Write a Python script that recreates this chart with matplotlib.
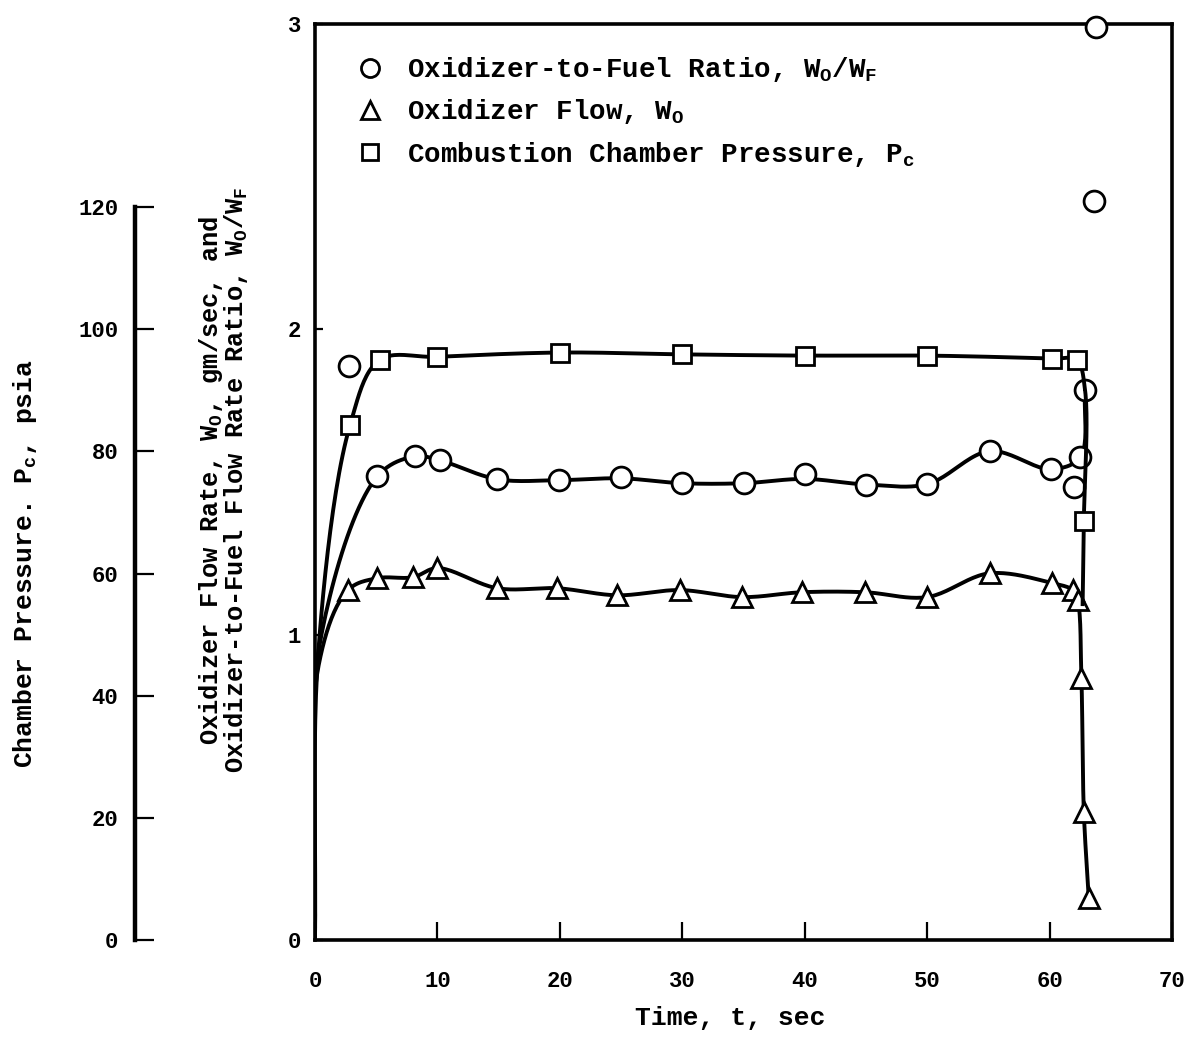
import numpy as np
import matplotlib
matplotlib.use("Agg")
import matplotlib.pyplot as plt
from matplotlib.lines import Line2D

plt.rcParams['font.family'] = ['Liberation Mono', 'DejaVu Sans Mono']
plt.rcParams['font.weight'] = 'bold'
plt.rcParams['axes.labelweight'] = 'bold'
plt.rcParams['mathtext.fontset'] = 'custom'
plt.rcParams['mathtext.rm'] = 'Liberation Mono:bold'
plt.rcParams['mathtext.it'] = 'Liberation Mono:bold'
plt.rcParams['mathtext.bf'] = 'Liberation Mono:bold'

# ---------------- data ----------------
# Oxidizer-to-fuel ratio W_O/W_F (circles)
ratio_t = [2.8, 5.1, 8.2, 10.2, 14.9, 19.9, 25.0, 30.0, 35.0, 40.0, 45.0, 50.0,
           55.1, 60.1, 62.0, 62.5, 62.9, 63.6, 63.8]
ratio_v = [1.879, 1.519, 1.584, 1.571, 1.509, 1.506, 1.516, 1.496, 1.496, 1.525,
           1.489, 1.493, 1.601, 1.542, 1.483, 1.581, 1.80, 2.42, 2.99]
# faired curve through ratio data
ratio_curve_t = [0.0, 0.3, 5.1, 8.2, 10.2, 14.9, 19.9, 25.0, 30.0, 35.0, 40.0,
                 45.0, 50.0, 55.1, 60.1, 62.5, 62.9]
ratio_curve_v = [0.0, 0.95, 1.519, 1.584, 1.571, 1.509, 1.506, 1.512, 1.496, 1.496,
                 1.51, 1.492, 1.493, 1.601, 1.542, 1.581, 1.80]

# Oxidizer flow W_O, gm/sec (triangles)
flow_t = [2.7, 5.1, 8.0, 10.0, 14.9, 19.8, 24.7, 29.8, 34.9, 39.8, 44.9, 50.0,
          55.1, 60.2, 61.9, 62.3, 62.6, 62.8, 63.2]
flow_v = [1.146, 1.185, 1.188, 1.218, 1.152, 1.152, 1.129, 1.146, 1.123, 1.139,
          1.139, 1.123, 1.201, 1.169, 1.146, 1.113, 0.858, 0.419, 0.137]
flow_curve_t = [0.0, 0.3] + flow_t
flow_curve_v = [0.0, 0.9] + flow_v

# Combustion chamber pressure P_c, psia (squares)
press_t = [2.86, 5.3, 10.0, 20.0, 30.0, 40.0, 50.0, 60.2, 62.2, 62.8]
press_v = [84.3, 95.0, 95.5, 96.2, 95.9, 95.7, 95.7, 95.2, 95.0, 68.6]
press_curve_t = [0.0, 0.3, 2.86, 5.3, 10.0, 20.0, 30.0, 40.0, 50.0, 60.2, 62.2,
                 62.9, 62.8, 62.7]
press_curve_v = [0.0, 48.0, 84.3, 95.0, 95.5, 96.2, 95.9, 95.7, 95.7, 95.2, 95.0,
                 90.0, 68.6, 55.0]

x_ticks = [0, 10, 20, 30, 40, 50, 60, 70]
y_ticks = [0, 1, 2, 3]
p_ticks = [0, 20, 40, 60, 80, 100, 120]


def smooth(tx, vy, sx, sy, n=24, alpha=0.5):
    """Centripetal Catmull-Rom curve through the given points (drawing only)."""
    P = np.column_stack([np.asarray(tx, float) * sx, np.asarray(vy, float) * sy])
    P = np.vstack([2 * P[0] - P[1], P, 2 * P[-1] - P[-2]])
    out = []
    for i in range(1, len(P) - 2):
        p0, p1, p2, p3 = P[i - 1], P[i], P[i + 1], P[i + 2]
        t0 = 0.0
        t1 = t0 + max(np.linalg.norm(p1 - p0), 1e-6) ** alpha
        t2 = t1 + max(np.linalg.norm(p2 - p1), 1e-6) ** alpha
        t3 = t2 + max(np.linalg.norm(p3 - p2), 1e-6) ** alpha
        t = np.linspace(t1, t2, n)[:, None]
        A1 = (t1 - t) / (t1 - t0) * p0 + (t - t0) / (t1 - t0) * p1
        A2 = (t2 - t) / (t2 - t1) * p1 + (t - t1) / (t2 - t1) * p2
        A3 = (t3 - t) / (t3 - t2) * p2 + (t - t2) / (t3 - t2) * p3
        B1 = (t2 - t) / (t2 - t0) * A1 + (t - t0) / (t2 - t0) * A2
        B2 = (t3 - t) / (t3 - t1) * A2 + (t - t1) / (t3 - t1) * A3
        C = (t2 - t) / (t2 - t1) * B1 + (t - t1) / (t2 - t1) * B2
        out.append(C)
    C = np.vstack(out)
    return C[:, 0] / sx, C[:, 1] / sy


W, H = 1195, 1038
fig = plt.figure(figsize=(W / 100, H / 100), dpi=100)
ax = fig.add_axes([315 / W, 98 / H, 857 / W, 916 / H])
ax.set_xlim(0, 70)
ax.set_ylim(0, 3)
ax.set_xticks(x_ticks)
ax.set_yticks(y_ticks)
ax.tick_params(axis='x', direction='in', length=13, width=1.6, pad=22, labelsize=16)
ax.tick_params(axis='y', direction='in', length=6, width=1.6, pad=10, labelsize=16)
for s in ax.spines.values():
    s.set_linewidth(2.6)

ax_p = ax.twinx()
ax_p.set_ylim(0, 150)
ax_p.yaxis.set_ticks_position('left')
ax_p.yaxis.set_label_position('left')
ax_p.spines['left'].set_position(('axes', -0.21))
ax_p.spines['left'].set_bounds(0, 120)
ax_p.spines['left'].set_linewidth(3.2)
for s in ['right', 'top', 'bottom']:
    ax_p.spines[s].set_visible(False)
ax_p.set_yticks(p_ticks)
ax_p.tick_params(axis='y', direction='in', length=14, width=1.6, pad=12, labelsize=16)

sx_main = 857 / 70.0
sy_main = 916 / 3.0
sy_p = 916 / 150.0

lw = 2.8
xc, yc = smooth(ratio_curve_t, ratio_curve_v, sx_main, sy_main)
ax.plot(xc, yc, color='black', lw=lw, zorder=2)
xc, yc = smooth(flow_curve_t, flow_curve_v, sx_main, sy_main)
ax.plot(xc, yc, color='black', lw=lw, zorder=2)
xc, yc = smooth(press_curve_t, press_curve_v, sx_main, sy_p)
ax_p.plot(xc, yc, color='black', lw=lw, zorder=2)

mk = dict(markerfacecolor='white', markeredgecolor='black', markeredgewidth=2.0,
          linestyle='none', zorder=5, clip_on=False)
ax.plot(ratio_t, ratio_v, 'o', markersize=15, **mk)
ax.plot(flow_t, flow_v, '^', markersize=15, **mk)
ax_p.plot(press_t, press_v, 's', markersize=13, **mk)

ax.set_xlabel('Time, t, sec', fontsize=19, labelpad=14)
ax.xaxis.set_label_coords(0.485, -0.072)
ax.set_ylabel('Oxidizer Flow Rate, $W_O$, gm/sec, and\n'
              'Oxidizer-to-Fuel Flow Rate Ratio, $W_O/W_F$',
              fontsize=18.3, linespacing=0.85)
ax.yaxis.set_label_coords(-0.076, 0.502)
ax_p.set_ylabel('Chamber Pressure. $P_c$, psia', fontsize=19)
ax_p.yaxis.set_label_coords(-0.322, 0.411)

handles = [
    Line2D([], [], marker='o', markersize=13, markerfacecolor='white',
           markeredgecolor='black', markeredgewidth=2.0, linestyle='none'),
    Line2D([], [], marker='^', markersize=13, markerfacecolor='white',
           markeredgecolor='black', markeredgewidth=2.0, linestyle='none'),
    Line2D([], [], marker='s', markersize=11, markerfacecolor='white',
           markeredgecolor='black', markeredgewidth=2.0, linestyle='none'),
]
labels = ['Oxidizer-to-Fuel Ratio, $W_O/W_F$',
          'Oxidizer Flow, $W_O$',
          'Combustion Chamber Pressure, $P_c$']
leg = ax.legend(handles, labels, loc='upper left', bbox_to_anchor=(0.05, 0.966),
                frameon=False, fontsize=19.8, handlelength=0.91, handletextpad=0.86,
                labelspacing=0.48, borderaxespad=0, borderpad=0)
leg.set_zorder(10)

fig.savefig('out.png', dpi=100)
